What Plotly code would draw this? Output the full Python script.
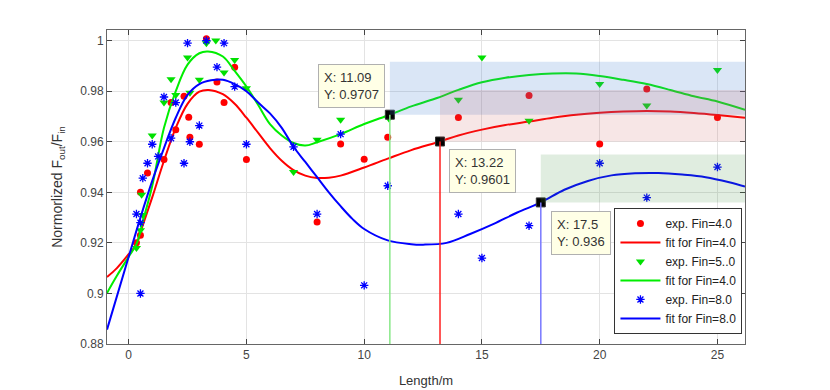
import plotly.graph_objects as go

red_x = [0.33, 0.5, 0.5, 0.8, 1.5, 1.8, 2.0, 2.35, 2.55, 2.6, 3.0, 3.3, 3.75, 4.05, 4.5, 5.0,
         8.0, 9.0, 10.0, 11.0, 14.0, 17.0, 20.0, 22.0, 25.0]
red_y = [0.920, 0.923, 0.940, 0.9476, 0.953, 0.9755, 0.9647, 0.978, 0.9697, 0.9618, 0.959, 1.0007,
         0.9836, 0.9755, 0.9895, 0.953, 0.9283, 0.9591, 0.9531, 0.9618, 0.9696, 0.9783, 0.9591,
         0.9809, 0.9696]

green_x = [0.33, 0.5, 0.6, 0.55, 1.0, 1.5, 1.8, 2.0, 2.5, 2.6, 3.0, 3.3, 3.7, 4.05, 4.5, 5.0,
           7.0, 8.0, 9.0, 11.05, 14.0, 15.0, 17.0, 20.0, 22.0, 25.0]
green_y = [0.918, 0.925, 0.931, 0.939, 0.9625, 0.9755, 0.9847, 0.9785, 0.9933, 0.9794, 0.9845,
           0.999, 1.0, 0.9874, 0.9923, 0.9812, 0.948, 0.9608, 0.9687, 0.9692, 0.9766, 0.9933,
           0.9683, 0.9828, 0.9743, 0.9884]

blue_x = [0.33, 0.5, 0.5, 0.6, 0.8, 1.0, 1.25, 1.5, 1.8, 2.0, 2.35, 2.5, 2.6, 3.0, 3.3, 3.75,
          4.05, 4.5, 5.0, 7.0, 8.0, 9.0, 10.0, 11.0, 14.0, 15.0, 17.0, 20.0, 22.0, 25.0]
blue_y = [0.9314, 0.928, 0.900, 0.9456, 0.9515, 0.959, 0.9542, 0.9777, 0.9614, 0.9755, 0.9515,
          0.999, 0.960, 0.9664, 1.0, 0.9895, 0.999, 0.9818, 0.959, 0.958, 0.9314, 0.963, 0.9032,
          0.9426, 0.9314, 0.914, 0.9268, 0.9515, 0.9379, 0.950]

# fitted curves
fit_red_x = [-0.92, -0.5, 0, 0.33, 0.6, 1.0, 1.5, 2.0, 2.5, 3.0, 3.4, 4.0, 4.5, 5.0, 5.5, 6.0,
             6.5, 7.0, 7.5, 8.0, 8.5, 9.0, 10.0, 11.0, 12.0, 13.22, 14.0, 15.0, 16.0, 17.0,
             18.0, 19.0, 20.0, 21.0, 22.0, 23.0, 24.0, 25.0, 26.17]
fit_red_y = [0.9065, 0.910, 0.9155, 0.9195, 0.927, 0.938, 0.9525, 0.9655, 0.975, 0.9798, 0.9805,
             0.9788, 0.975, 0.9695, 0.9635, 0.9575, 0.9525, 0.9488, 0.9466, 0.9457, 0.9458,
             0.9466, 0.9498, 0.9533, 0.9567, 0.9601, 0.9625, 0.9648, 0.9666, 0.968, 0.9695,
             0.9707, 0.9715, 0.972, 0.9722, 0.972, 0.9714, 0.9706, 0.9695]

fit_green_x = [-0.92, -0.5, 0, 0.33, 0.6, 1.0, 1.5, 2.0, 2.5, 3.0, 3.37, 4.0, 4.5, 5.0, 5.5, 6.0,
               6.5, 7.0, 7.5, 8.0, 9.0, 10.0, 11.09, 12.0, 13.0, 14.0, 15.0, 16.0, 17.0, 18.0,
               19.0, 20.0, 21.0, 22.0, 23.0, 24.0, 25.0, 26.17]
fit_green_y = [0.9002, 0.907, 0.9145, 0.9195, 0.9285, 0.9425, 0.9655, 0.980, 0.9905, 0.995,
               0.9957, 0.9937, 0.988, 0.9818, 0.9745, 0.967, 0.9625, 0.9595, 0.9585, 0.9598,
               0.963, 0.967, 0.9707, 0.974, 0.977, 0.9805, 0.9835, 0.9853, 0.9864, 0.987,
               0.987, 0.986, 0.9845, 0.9828, 0.9805, 0.978, 0.9759, 0.9726]

fit_blue_x = [-0.92, 0, 0.5, 1.0, 1.5, 2.0, 2.5, 3.0, 3.5, 4.0, 4.5, 5.0, 5.5, 6.0, 6.5, 7.0,
              7.5, 8.0, 8.5, 9.0, 9.5, 10.0, 11.0, 12.0, 12.5, 13.5, 14.5, 15.5, 16.5, 17.5,
              18.5, 19.5, 20.5, 21.5, 22.5, 23.5, 24.5, 25.5, 26.17]
fit_blue_y = [0.8857, 0.9145, 0.930, 0.9445, 0.9575, 0.9695, 0.9785, 0.9828, 0.9843, 0.9845,
              0.9828, 0.980, 0.9755, 0.9712, 0.9655, 0.958, 0.952, 0.946, 0.940, 0.9345,
              0.9295, 0.9255, 0.921, 0.9195, 0.9193, 0.920, 0.9235, 0.9275, 0.932, 0.936,
              0.941, 0.9445, 0.9467, 0.9475, 0.9476, 0.947, 0.946, 0.944, 0.9423]

# data tips
tip_x = [11.09, 13.22, 17.5]
tip_y = [0.9707, 0.9601, 0.936]
tip_text = ["X: 11.09<br>Y: 0.9707", "X: 13.22<br>Y: 0.9601", "X: 17.5<br>Y: 0.936"]

y_ticks = [0.88, 0.9, 0.92, 0.94, 0.96, 0.98, 1.0]
y_labels = ["0.88", "0.9", "0.92", "0.94", "0.96", "0.98", "1"]
x_ticks = [0, 5, 10, 15, 20, 25]

XMIN, XMAX = -0.92, 26.17
YMIN, YMAX = 0.88, 1.0042

fig = go.Figure()

fig.add_trace(go.Scatter(x=red_x, y=red_y, mode="markers", name="exp. Fin=4.0",
                         marker=dict(symbol="circle", size=7, color="#ff0000")))
fig.add_trace(go.Scatter(x=fit_red_x, y=fit_red_y, mode="lines", name="fit for Fin=4.0",
                         line=dict(color="#ff0000", width=2, shape="spline")))
fig.add_trace(go.Scatter(x=green_x, y=green_y, mode="markers", name="exp. Fin=5..0",
                         marker=dict(symbol="triangle-down", size=8, color="#00e000")))
fig.add_trace(go.Scatter(x=fit_green_x, y=fit_green_y, mode="lines", name="fit for Fin=4.0",
                         line=dict(color="#00ee00", width=2, shape="spline")))
fig.add_trace(go.Scatter(x=blue_x, y=blue_y, mode="markers", name="exp. Fin=8.0",
                         marker=dict(symbol="asterisk-open", size=7, color="#0000ff",
                                     line=dict(color="#0000ff", width=1.3))))
fig.add_trace(go.Scatter(x=fit_blue_x, y=fit_blue_y, mode="lines", name="fit for Fin=8.0",
                         line=dict(color="#0000ff", width=2, shape="spline")))

# data tip stems, highlight boxes and markers
stem_cols = ["#88e888", "#ff2020", "#7878ff"]
box_cols = ["rgba(70,130,210,0.2)", "rgba(200,80,80,0.14)", "rgba(60,140,60,0.16)"]
box_h = [0.0209, 0.0204, 0.019]
for i in range(3):
    fig.add_shape(type="line", x0=tip_x[i], x1=tip_x[i], y0=YMIN, y1=tip_y[i],
                  line=dict(color=stem_cols[i], width=1.5), layer="above")
    fig.add_shape(type="rect", x0=tip_x[i], x1=XMAX, y0=tip_y[i], y1=tip_y[i] + box_h[i],
                  fillcolor=box_cols[i], line=dict(width=0), layer="above")

fig.add_trace(go.Scatter(x=tip_x, y=tip_y, mode="markers", showlegend=False,
                         marker=dict(symbol="square", size=9, color="black",
                                     line=dict(color="#333", width=1))))

anchors = [("right", "bottom", -5, 7), ("left", "top", 9, -8), ("left", "top", 10, -9)]
for i in range(3):
    xa, ya, xs, ys = anchors[i]
    fig.add_annotation(x=tip_x[i], y=tip_y[i], text=tip_text[i], showarrow=False,
                       xanchor=xa, yanchor=ya, xshift=xs, yshift=ys, align="left",
                       bgcolor="#ffffe6", bordercolor="#b0b0b0", borderwidth=1, borderpad=5,
                       font=dict(size=13, color="#333333"))

axis_common = dict(showline=True, linecolor="#666666", linewidth=1, mirror="ticks",
                   ticks="inside", ticklen=5, tickcolor="#444444",
                   showgrid=True, gridcolor="#e3e3e3", zeroline=False, automargin=False,
                   tickfont=dict(size=12, color="#444444"))

fig.update_xaxes(range=[XMIN, XMAX], tickvals=x_ticks,
                 title=dict(text="Length/m", font=dict(size=13, color="#333333"), standoff=14),
                 **axis_common)
fig.update_yaxes(range=[YMIN, YMAX], tickvals=y_ticks, ticktext=y_labels,
                 title=dict(text="Normorlized F<sub>out</sub>/F<sub>in</sub>",
                            font=dict(size=14, color="#333333"), standoff=14),
                 **axis_common)

# page has an 8px offset, so margins are shifted to keep the plot box in place
fig.update_layout(
    width=830, height=390,
    margin=dict(l=99, r=93, t=22, b=54),
    paper_bgcolor="white", plot_bgcolor="white",
    font=dict(family="Liberation Sans, Arial, sans-serif"),
    legend=dict(x=0.996, y=0.032, xanchor="right", yanchor="bottom",
                bgcolor="white", bordercolor="#333333", borderwidth=1,
                font=dict(size=12, color="#222222"), itemwidth=40,
                tracegroupgap=0),
)

fig.write_html("out.html")
